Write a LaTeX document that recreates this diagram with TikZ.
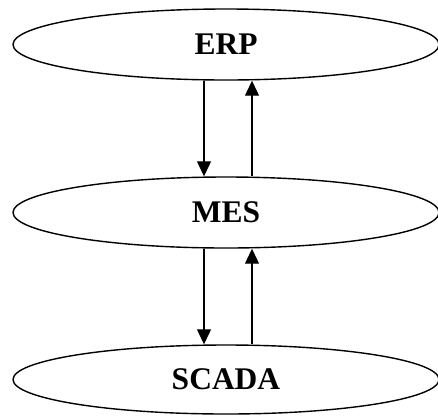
\documentclass[tikz,border=0pt]{standalone}
\usepackage{fontspec}
\setmainfont{Liberation Serif}
\usetikzlibrary{shapes.geometric,arrows.meta}

\newcommand\layerfont{\fontsize{31.5pt}{34pt}\selectfont\bfseries}

\tikzset{
  layer/.style={ellipse, draw, line width=1.4pt, inner sep=0pt,
    minimum width=426pt, minimum height=71pt, font=\layerfont},
  flow/.style={line width=1.1pt, -{Triangle[length=15pt,width=14pt]}}
}

\begin{document}
\begin{tikzpicture}[x=1pt,y=1pt]
  \useasboundingbox (0,0) rectangle (438,-416);

  % the three automation layers
  \node[layer] (erp)   at (226,-44.5) {\raisebox{-1pt}{ERP}};
  \node[layer] (mes)   at (226,-212.5) {\raisebox{-1pt}{MES}};
  \node[layer, minimum height=69pt] (scada) at (226,-379.5) {\raisebox{-1.5pt}{SCADA}};

  % downward and upward links between neighbouring layers
  \draw[flow] ([xshift=-22pt]erp.south) -- ([xshift=-22pt]mes.north);
  \draw[flow] ([xshift=26pt]mes.north) -- ([xshift=26pt]erp.south);
  \draw[flow] ([xshift=-22pt]mes.south) -- ([xshift=-22pt]scada.north);
  \draw[flow] ([xshift=26pt]scada.north) -- ([xshift=26pt]mes.south);
\end{tikzpicture}
\end{document}
